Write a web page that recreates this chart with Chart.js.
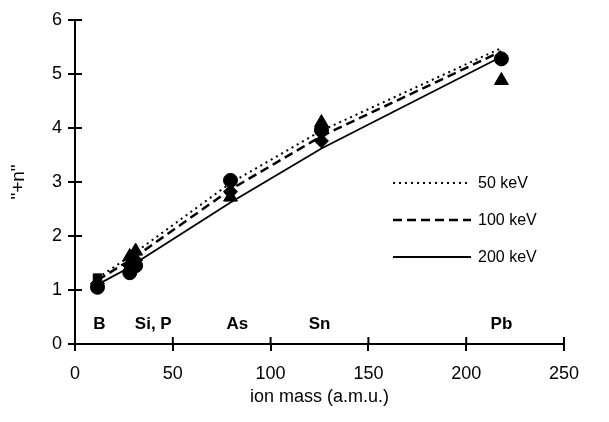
<!DOCTYPE html>
<html>
<head>
<meta charset="utf-8">
<script src="https://cdn.jsdelivr.net/npm/chart.js@4.4.1/dist/chart.umd.min.js"></script>
<style>
  html, body { margin: 0; padding: 0; background: #fff; }
  #wrap { width: 609px; height: 422px; }
</style>
</head>
<body>
<div id="wrap"><canvas id="chart" width="609" height="422"></canvas></div>
<script>
// ion masses as placed in the figure
const ionMass = [11.5, 28, 31, 79.5, 126, 218];

// fitted lines for each energy
const seriesNames = ['50 keV', '100 keV', '200 keV'];
const line50 = [1.22, 1.62, 1.70, 2.98, 3.95, 5.48];
const line100 = [1.18, 1.55, 1.62, 2.86, 3.85, 5.42];
const line200 = [1.10, 1.42, 1.50, 2.62, 3.62, 5.32];

// measured points (marker shapes)
const circleX = [11.5, 28, 31, 79.5, 126, 218];
const circleY = [1.05, 1.32, 1.45, 3.03, 3.96, 5.28];
const triangleX = [28, 31, 79.5, 126, 218];
const triangleY = [1.62, 1.72, 2.72, 4.10, 4.88];
const diamondX = [11.5, 28, 31, 79.5, 126];
const diamondY = [1.12, 1.45, 1.55, 2.82, 3.76];
const squareX = [11.5];
const squareY = [1.22];

// element labels along the bottom
const elementNames = ['B', 'Si, P', 'As', 'Sn', 'Pb'];
const elementX = [12.5, 40, 83, 125, 218];
const elementY = 0.37;

const xTicks = [0, 50, 100, 150, 200, 250];
const yTicks = [0, 1, 2, 3, 4, 5, 6];

const FONT = '"Liberation Sans", Arial, sans-serif';
const toPts = (xs, ys) => xs.map((x, i) => ({ x: x, y: ys[i] }));

const lineStyles = [
  { dash: [2, 4], width: 2 },
  { dash: [9, 5], width: 2.5 },
  { dash: [], width: 1.8 }
];
const lineData = [line50, line100, line200];

const datasets = lineData.map((vals, i) => ({
  label: seriesNames[i],
  data: toPts(ionMass, vals),
  showLine: true,
  borderColor: '#000',
  borderWidth: lineStyles[i].width,
  borderDash: lineStyles[i].dash,
  pointRadius: 0,
  fill: false
}));

const markerSets = [
  { x: circleX, y: circleY, style: 'circle', r: 7 },
  { x: triangleX, y: triangleY, style: 'triangle', r: 8 },
  { x: diamondX, y: diamondY, style: 'rectRot', r: 7 },
  { x: squareX, y: squareY, style: 'rect', r: 6 }
];
markerSets.forEach(m => {
  datasets.push({
    label: m.style,
    data: toPts(m.x, m.y),
    showLine: false,
    pointStyle: m.style,
    pointRadius: m.r,
    backgroundColor: '#000',
    borderColor: '#000',
    borderWidth: 1
  });
});

// inner half of the crossing tick marks, element labels and the legend
const extras = {
  id: 'extras',
  afterDatasetsDraw(chart) {
    const ctx = chart.ctx;
    const xs = chart.scales.x;
    const ys = chart.scales.y;
    ctx.save();
    ctx.strokeStyle = '#000';
    ctx.lineWidth = 2;
    xTicks.forEach(v => {
      const px = xs.getPixelForValue(v);
      ctx.beginPath();
      ctx.moveTo(px, ys.bottom);
      ctx.lineTo(px, ys.bottom - 7);
      ctx.stroke();
    });
    yTicks.forEach(v => {
      const py = ys.getPixelForValue(v);
      ctx.beginPath();
      ctx.moveTo(xs.left, py);
      ctx.lineTo(xs.left + 7, py);
      ctx.stroke();
    });

    ctx.fillStyle = '#000';
    ctx.font = 'bold 17px ' + FONT;
    ctx.textAlign = 'center';
    ctx.textBaseline = 'middle';
    elementNames.forEach((name, i) => {
      ctx.fillText(name, xs.getPixelForValue(elementX[i]), ys.getPixelForValue(elementY));
    });

    // legend inside plot
    const lx0 = 393, lx1 = 471;
    const rowY = [183, 220, 257];
    ctx.font = '16px ' + FONT;
    ctx.textAlign = 'left';
    seriesNames.forEach((name, i) => {
      ctx.beginPath();
      ctx.setLineDash(lineStyles[i].dash);
      ctx.lineWidth = lineStyles[i].width;
      ctx.moveTo(lx0, rowY[i]);
      ctx.lineTo(lx1, rowY[i]);
      ctx.stroke();
      ctx.setLineDash([]);
      ctx.fillText(name, 478, rowY[i] + 1);
    });
    ctx.restore();
  }
};

new Chart(document.getElementById('chart'), {
  type: 'scatter',
  data: { datasets: datasets },
  options: {
    responsive: false,
    animation: false,
    layout: { padding: { left: 0, right: 45, top: 20, bottom: 14 } },
    plugins: {
      legend: { display: false },
      tooltip: { enabled: false }
    },
    scales: {
      x: {
        type: 'linear',
        min: 0,
        max: 250,
        afterBuildTicks: s => { s.ticks = xTicks.map(v => ({ value: v })); },
        afterFit: s => { s.height = 422 - 344 - 14; },
        grid: { display: true, drawOnChartArea: false, drawTicks: true, tickLength: 7, color: '#000', lineWidth: 2 },
        border: { display: true, color: '#000', width: 2 },
        ticks: { color: '#000', padding: 12, maxRotation: 0, font: { family: FONT, size: 18 } },
        title: {
          display: true,
          text: 'ion mass (a.m.u.)',
          color: '#000',
          padding: { top: 1, bottom: 0 },
          font: { family: FONT, size: 18 }
        }
      },
      y: {
        type: 'linear',
        min: 0,
        max: 6,
        afterBuildTicks: s => { s.ticks = yTicks.map(v => ({ value: v })); },
        afterFit: s => { s.width = 75; },
        grid: { display: true, drawOnChartArea: false, drawTicks: true, tickLength: 7, color: '#000', lineWidth: 2 },
        border: { display: true, color: '#000', width: 2 },
        ticks: { color: '#000', padding: 6, font: { family: FONT, size: 18 } },
        title: {
          display: true,
          text: '"+n"',
          color: '#000',
          padding: { top: 7, bottom: 0 },
          font: { family: FONT, size: 19 }
        }
      }
    }
  },
  plugins: [extras]
});
</script>
</body>
</html>
